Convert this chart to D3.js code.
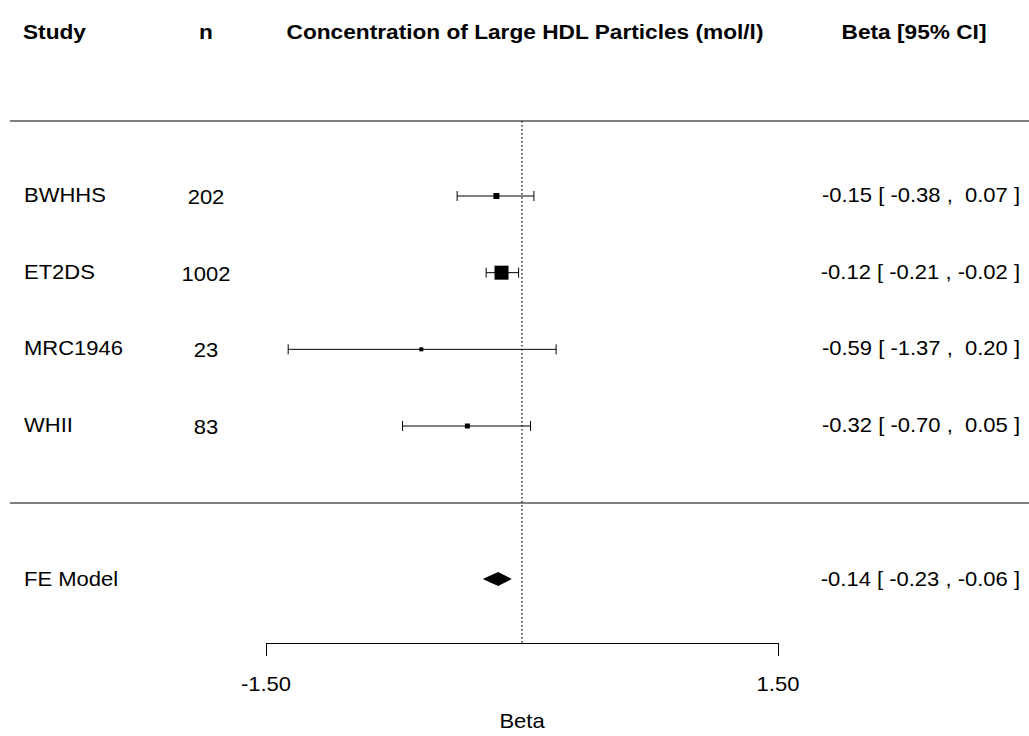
<!DOCTYPE html>
<html><head><meta charset="utf-8">
<script src="https://cdn.jsdelivr.net/npm/d3@7"></script>
<style>body{margin:0;background:#fff}svg{display:block}text{font-family:"Liberation Sans",Arial,sans-serif;fill:#000;white-space:pre}</style>
</head><body>
<script>
const studies = ["BWHHS","ET2DS","MRC1946","WHII"];
const nValues = ["202","1002","23","83"];
const beta = [-0.15,-0.12,-0.59,-0.32];
const lower = [-0.38,-0.21,-1.37,-0.70];
const upper = [0.07,-0.02,0.20,0.05];
const weights = [6,14,4,5];
const ciLabels = ["-0.15 [ -0.38 ,  0.07 ]","-0.12 [ -0.21 , -0.02 ]","-0.59 [ -1.37 ,  0.20 ]","-0.32 [ -0.70 ,  0.05 ]"];
const feModel = {label:"FE Model", est:-0.14, lo:-0.23, hi:-0.06, text:"-0.14 [ -0.23 , -0.06 ]"};
const tickValues = [-1.5, 1.5];
const tickLabels = ["-1.50","1.50"];
const headers = ["Study","n","Concentration of Large HDL Particles (mol/l)","Beta [95% CI]"];

const W=1029,H=736, SX=1.1, FS=20;
const svg=d3.select("body").append("svg").attr("width",W).attr("height",H);
const x=d3.scaleLinear().domain([-1.5,1.5]).range([266,778]);
const y=d3.scalePoint().domain(studies).range([196,426]);
const feY=579, axisY=643;

function txt(str,px,py,anchor,opts={}){
  const t=svg.append("text").attr("transform",`translate(${px},${py}) scale(${opts.sx||SX},1)`)
    .attr("text-anchor",anchor||"start").attr("font-size",opts.fs||FS).text(str);
  if(opts.bold) t.attr("font-weight","bold");
  return t;
}

// header
const hx=[23,206,525,914], ha=["start","middle","middle","middle"];
headers.forEach((h,i)=>txt(h,hx[i],39,ha[i],{bold:true,sx:1.08,fs:21}));

// horizontal rules
[121,503].forEach(v=>svg.append("line").attr("x1",10).attr("x2",W).attr("y1",v).attr("y2",v).attr("stroke","#555").attr("stroke-width",1.5));

// dotted reference line
svg.append("line").attr("x1",x(0)).attr("x2",x(0)).attr("y1",121).attr("y2",axisY).attr("stroke","#000").attr("stroke-width",1.2).attr("stroke-dasharray","1.5,2.5");

const rows=studies.map((s,i)=>({s,n:nValues[i],b:beta[i],lo:lower[i],hi:upper[i],w:weights[i],t:ciLabels[i]}));
rows.forEach(d=>{
  const yy=y(d.s);
  txt(d.s,24,yy+6,"start");
  txt(d.n,206,yy+8,"middle");
  txt(d.t,1020,yy+6,"end");
});
const g=svg.selectAll(".row").data(rows).join("g");
g.append("line").attr("x1",d=>x(d.lo)).attr("x2",d=>x(d.hi)).attr("y1",d=>y(d.s)).attr("y2",d=>y(d.s)).attr("stroke","#000").attr("stroke-width",1);
g.append("line").attr("x1",d=>x(d.lo)).attr("x2",d=>x(d.lo)).attr("y1",d=>y(d.s)-5).attr("y2",d=>y(d.s)+5).attr("stroke","#000");
g.append("line").attr("x1",d=>x(d.hi)).attr("x2",d=>x(d.hi)).attr("y1",d=>y(d.s)-5).attr("y2",d=>y(d.s)+5).attr("stroke","#000");
g.append("rect").attr("x",d=>x(d.b)-d.w/2).attr("y",d=>y(d.s)-d.w/2).attr("width",d=>d.w).attr("height",d=>d.w).attr("fill","#000");

// FE model
txt(feModel.label,24,feY+7,"start");
txt(feModel.text,1020,feY+7,"end");
svg.append("path").attr("d",`M${x(feModel.lo)},${feY}L${x(feModel.est)},${feY-7}L${x(feModel.hi)},${feY}L${x(feModel.est)},${feY+7}Z`).attr("fill","#000");

// axis
const ax=svg.append("g").attr("transform",`translate(0,${axisY})`)
  .call(d3.axisBottom(x).tickValues(tickValues).tickFormat("").tickSize(13).tickSizeOuter(0));
ax.select(".domain").attr("stroke","#000");
ax.selectAll(".tick line").attr("stroke","#000");
tickValues.forEach((v,i)=>txt(tickLabels[i],x(v),691,"middle"));
txt("Beta",x(0),728,"middle");
</script>
</body></html>
